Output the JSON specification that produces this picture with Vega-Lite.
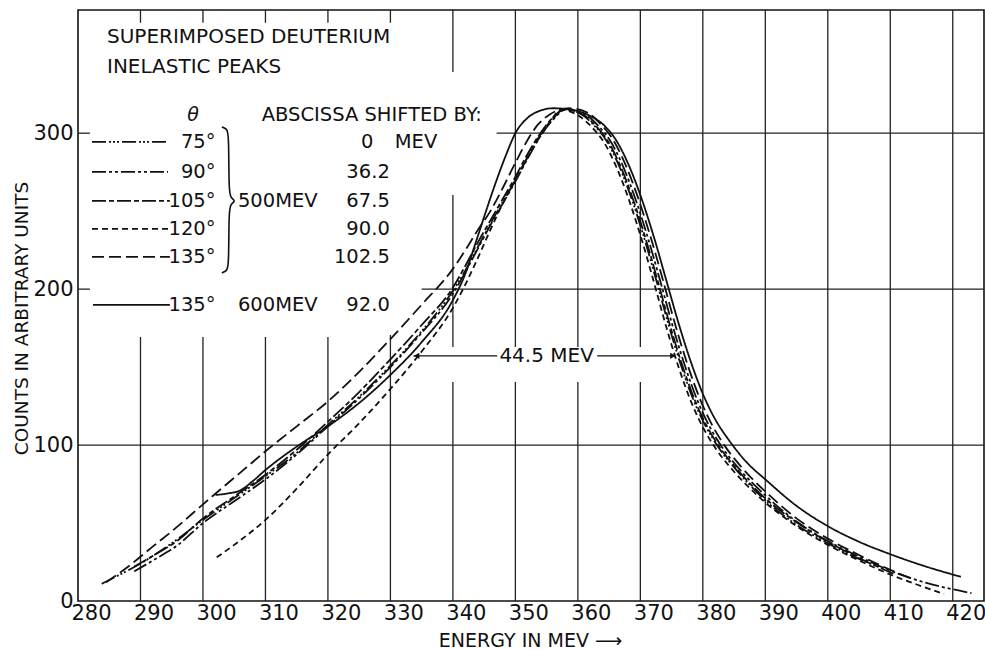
{
  "$schema": "https://vega.github.io/schema/vega-lite/v6.json",
  "width": 906,
  "height": 591,
  "autosize": {"type": "none"},
  "padding": {"left": 78, "top": 10, "right": 1, "bottom": 49},
  "background": "white",
  "config": {"view": {"stroke": "#111", "strokeWidth": 1.6}, "font": "DejaVu Sans"},
  "datasets": {
    "grid": [
      {"x": 290, "x2": 290, "y": 379, "y2": 370.8}, {"x": 290, "x2": 290, "y": 169.3, "y2": 0},
      {"x": 300, "x2": 300, "y": 379, "y2": 370.8}, {"x": 300, "x2": 300, "y": 169.3, "y2": 0},
      {"x": 310, "x2": 310, "y": 379, "y2": 370.8}, {"x": 310, "x2": 310, "y": 169.3, "y2": 0},
      {"x": 320, "x2": 320, "y": 379, "y2": 370.8}, {"x": 320, "x2": 320, "y": 169.3, "y2": 0},
      {"x": 330, "x2": 330, "y": 379, "y2": 370.8}, {"x": 330, "x2": 330, "y": 170.6, "y2": 0},
      {"x": 340, "x2": 340, "y": 379, "y2": 339.3}, {"x": 340, "x2": 340, "y": 260.4, "y2": 162.9}, {"x": 340, "x2": 340, "y": 140.5, "y2": 0},
      {"x": 350, "x2": 350, "y": 379, "y2": 162.9}, {"x": 350, "x2": 350, "y": 140.5, "y2": 0},
      {"x": 360, "x2": 360, "y": 379, "y2": 162.9}, {"x": 360, "x2": 360, "y": 140.5, "y2": 0},
      {"x": 370, "x2": 370, "y": 379, "y2": 162.9}, {"x": 370, "x2": 370, "y": 140.5, "y2": 0},
      {"x": 380, "x2": 380, "y": 379, "y2": 0},
      {"x": 390, "x2": 390, "y": 379, "y2": 0},
      {"x": 400, "x2": 400, "y": 379, "y2": 0},
      {"x": 410, "x2": 410, "y": 379, "y2": 0},
      {"x": 420, "x2": 420, "y": 379, "y2": 0},
      {"x": 280, "x2": 425, "y": 100, "y2": 100},
      {"x": 335, "x2": 425, "y": 200, "y2": 200},
      {"x": 280, "x2": 281.9, "y": 200, "y2": 200},
      {"x": 347, "x2": 425, "y": 300, "y2": 300},
      {"x": 280, "x2": 281.9, "y": 300, "y2": 300}
    ],
    "curves": [
      {"s": "75°", "x": 283.8, "y": 11}, {"s": "75°", "x": 286, "y": 15.5}, {"s": "75°", "x": 290, "y": 24}, {"s": "75°", "x": 295, "y": 37}, {"s": "75°", "x": 300, "y": 52}, {"s": "75°", "x": 305, "y": 66}, {"s": "75°", "x": 310, "y": 80}, {"s": "75°", "x": 315, "y": 95}, {"s": "75°", "x": 320, "y": 113}, {"s": "75°", "x": 325, "y": 131}, {"s": "75°", "x": 330, "y": 151}, {"s": "75°", "x": 335, "y": 173}, {"s": "75°", "x": 340, "y": 199}, {"s": "75°", "x": 342, "y": 212}, {"s": "75°", "x": 344, "y": 227}, {"s": "75°", "x": 346, "y": 242}, {"s": "75°", "x": 348, "y": 256}, {"s": "75°", "x": 350, "y": 270}, {"s": "75°", "x": 352, "y": 285}, {"s": "75°", "x": 354, "y": 299}, {"s": "75°", "x": 356, "y": 309}, {"s": "75°", "x": 357.6, "y": 315.5}, {"s": "75°", "x": 360.6, "y": 312}, {"s": "75°", "x": 362.6, "y": 305}, {"s": "75°", "x": 364.6, "y": 295}, {"s": "75°", "x": 366.6, "y": 279}, {"s": "75°", "x": 368.6, "y": 258}, {"s": "75°", "x": 370.6, "y": 233}, {"s": "75°", "x": 372.6, "y": 205}, {"s": "75°", "x": 374.6, "y": 176}, {"s": "75°", "x": 376.6, "y": 150}, {"s": "75°", "x": 378.6, "y": 128}, {"s": "75°", "x": 380.6, "y": 111}, {"s": "75°", "x": 382.6, "y": 98}, {"s": "75°", "x": 385.6, "y": 83}, {"s": "75°", "x": 389.6, "y": 66}, {"s": "75°", "x": 394.6, "y": 50}, {"s": "75°", "x": 400, "y": 37}, {"s": "75°", "x": 405, "y": 27}, {"s": "75°", "x": 408.2, "y": 22},

      {"s": "90°", "x": 289, "y": 19}, {"s": "90°", "x": 292, "y": 26}, {"s": "90°", "x": 296, "y": 36}, {"s": "90°", "x": 300, "y": 50}, {"s": "90°", "x": 305, "y": 64}, {"s": "90°", "x": 310, "y": 78}, {"s": "90°", "x": 315, "y": 94}, {"s": "90°", "x": 320, "y": 112}, {"s": "90°", "x": 325, "y": 130}, {"s": "90°", "x": 330, "y": 150}, {"s": "90°", "x": 335, "y": 172}, {"s": "90°", "x": 340, "y": 197}, {"s": "90°", "x": 342, "y": 211}, {"s": "90°", "x": 344, "y": 226}, {"s": "90°", "x": 346, "y": 241}, {"s": "90°", "x": 348, "y": 255}, {"s": "90°", "x": 350, "y": 269}, {"s": "90°", "x": 352, "y": 284}, {"s": "90°", "x": 354, "y": 298}, {"s": "90°", "x": 356, "y": 308.5}, {"s": "90°", "x": 358.2, "y": 315.5}, {"s": "90°", "x": 361.2, "y": 312}, {"s": "90°", "x": 363.2, "y": 305}, {"s": "90°", "x": 365.2, "y": 295}, {"s": "90°", "x": 367.2, "y": 279}, {"s": "90°", "x": 369.2, "y": 258}, {"s": "90°", "x": 371.2, "y": 233}, {"s": "90°", "x": 373.2, "y": 205}, {"s": "90°", "x": 375.2, "y": 176}, {"s": "90°", "x": 377.2, "y": 150}, {"s": "90°", "x": 379.2, "y": 128}, {"s": "90°", "x": 381.2, "y": 111}, {"s": "90°", "x": 383.2, "y": 98}, {"s": "90°", "x": 386.2, "y": 83}, {"s": "90°", "x": 390.2, "y": 67}, {"s": "90°", "x": 395, "y": 51}, {"s": "90°", "x": 400, "y": 38.5}, {"s": "90°", "x": 405, "y": 28.5}, {"s": "90°", "x": 410, "y": 19.5}, {"s": "90°", "x": 415, "y": 12.5}, {"s": "90°", "x": 420, "y": 7.5}, {"s": "90°", "x": 423, "y": 5},

      {"s": "105°", "x": 289, "y": 22}, {"s": "105°", "x": 292, "y": 29}, {"s": "105°", "x": 296, "y": 39}, {"s": "105°", "x": 300, "y": 53}, {"s": "105°", "x": 305, "y": 67}, {"s": "105°", "x": 310, "y": 81}, {"s": "105°", "x": 315, "y": 97}, {"s": "105°", "x": 320, "y": 115}, {"s": "105°", "x": 325, "y": 134}, {"s": "105°", "x": 330, "y": 155}, {"s": "105°", "x": 335, "y": 177}, {"s": "105°", "x": 340, "y": 201}, {"s": "105°", "x": 342, "y": 215}, {"s": "105°", "x": 344, "y": 230}, {"s": "105°", "x": 346, "y": 244}, {"s": "105°", "x": 348, "y": 258}, {"s": "105°", "x": 350, "y": 272}, {"s": "105°", "x": 352, "y": 287}, {"s": "105°", "x": 354, "y": 300}, {"s": "105°", "x": 356, "y": 310}, {"s": "105°", "x": 357.8, "y": 315}, {"s": "105°", "x": 360.8, "y": 312}, {"s": "105°", "x": 362.8, "y": 305}, {"s": "105°", "x": 364.8, "y": 295}, {"s": "105°", "x": 366.8, "y": 279}, {"s": "105°", "x": 368.8, "y": 258}, {"s": "105°", "x": 370.8, "y": 233}, {"s": "105°", "x": 372.8, "y": 205}, {"s": "105°", "x": 374.8, "y": 176}, {"s": "105°", "x": 376.8, "y": 150}, {"s": "105°", "x": 378.8, "y": 128}, {"s": "105°", "x": 380.8, "y": 111}, {"s": "105°", "x": 382.8, "y": 98}, {"s": "105°", "x": 385.8, "y": 83}, {"s": "105°", "x": 389.8, "y": 66.5}, {"s": "105°", "x": 395, "y": 50.5}, {"s": "105°", "x": 400, "y": 38}, {"s": "105°", "x": 405, "y": 27.5}, {"s": "105°", "x": 410.5, "y": 17.5},

      {"s": "120°", "x": 302.2, "y": 28}, {"s": "120°", "x": 305, "y": 36}, {"s": "120°", "x": 310, "y": 52}, {"s": "120°", "x": 315, "y": 72}, {"s": "120°", "x": 320, "y": 94}, {"s": "120°", "x": 325, "y": 114}, {"s": "120°", "x": 330, "y": 136}, {"s": "120°", "x": 335, "y": 160}, {"s": "120°", "x": 340, "y": 188}, {"s": "120°", "x": 342, "y": 203}, {"s": "120°", "x": 344, "y": 220}, {"s": "120°", "x": 346, "y": 238}, {"s": "120°", "x": 348, "y": 255}, {"s": "120°", "x": 350, "y": 270}, {"s": "120°", "x": 352, "y": 285}, {"s": "120°", "x": 354.3, "y": 300}, {"s": "120°", "x": 356, "y": 310}, {"s": "120°", "x": 357.2, "y": 315}, {"s": "120°", "x": 360.2, "y": 311}, {"s": "120°", "x": 362.2, "y": 304}, {"s": "120°", "x": 364.2, "y": 294}, {"s": "120°", "x": 366.2, "y": 278}, {"s": "120°", "x": 368.2, "y": 257}, {"s": "120°", "x": 370.2, "y": 232}, {"s": "120°", "x": 372.2, "y": 204}, {"s": "120°", "x": 374.2, "y": 175}, {"s": "120°", "x": 376.2, "y": 149}, {"s": "120°", "x": 378.2, "y": 127}, {"s": "120°", "x": 380.2, "y": 110}, {"s": "120°", "x": 382.2, "y": 97}, {"s": "120°", "x": 385.2, "y": 82}, {"s": "120°", "x": 389.2, "y": 66}, {"s": "120°", "x": 395, "y": 48}, {"s": "120°", "x": 400, "y": 36}, {"s": "120°", "x": 405, "y": 26}, {"s": "120°", "x": 410, "y": 17}, {"s": "120°", "x": 415, "y": 9.5}, {"s": "120°", "x": 418.6, "y": 4.5},

      {"s": "135°", "x": 284.5, "y": 12}, {"s": "135°", "x": 288, "y": 22}, {"s": "135°", "x": 292, "y": 35}, {"s": "135°", "x": 296, "y": 48}, {"s": "135°", "x": 300, "y": 62}, {"s": "135°", "x": 305, "y": 79}, {"s": "135°", "x": 310, "y": 96}, {"s": "135°", "x": 315, "y": 112}, {"s": "135°", "x": 320, "y": 128}, {"s": "135°", "x": 325, "y": 147}, {"s": "135°", "x": 330, "y": 168}, {"s": "135°", "x": 335, "y": 190}, {"s": "135°", "x": 340, "y": 213}, {"s": "135°", "x": 342, "y": 225}, {"s": "135°", "x": 344, "y": 238}, {"s": "135°", "x": 346, "y": 250}, {"s": "135°", "x": 348, "y": 265}, {"s": "135°", "x": 350, "y": 281}, {"s": "135°", "x": 352, "y": 296}, {"s": "135°", "x": 353.5, "y": 305}, {"s": "135°", "x": 355.5, "y": 312}, {"s": "135°", "x": 358.6, "y": 316}, {"s": "135°", "x": 361.6, "y": 313}, {"s": "135°", "x": 363.6, "y": 306}, {"s": "135°", "x": 365.6, "y": 296}, {"s": "135°", "x": 367.6, "y": 280}, {"s": "135°", "x": 369.6, "y": 259}, {"s": "135°", "x": 371.6, "y": 234}, {"s": "135°", "x": 373.6, "y": 206}, {"s": "135°", "x": 375.6, "y": 177}, {"s": "135°", "x": 377.6, "y": 151}, {"s": "135°", "x": 379.6, "y": 129}, {"s": "135°", "x": 381.6, "y": 112}, {"s": "135°", "x": 383.6, "y": 99}, {"s": "135°", "x": 386.6, "y": 84}, {"s": "135°", "x": 390.6, "y": 68}, {"s": "135°", "x": 395, "y": 53}, {"s": "135°", "x": 400, "y": 40}, {"s": "135°", "x": 405, "y": 29.5}, {"s": "135°", "x": 410, "y": 20}, {"s": "135°", "x": 413.2, "y": 14.7},

      {"s": "135° 600", "x": 302, "y": 68}, {"s": "135° 600", "x": 304, "y": 69}, {"s": "135° 600", "x": 306, "y": 71}, {"s": "135° 600", "x": 308, "y": 77}, {"s": "135° 600", "x": 310, "y": 84}, {"s": "135° 600", "x": 315, "y": 99}, {"s": "135° 600", "x": 320, "y": 112}, {"s": "135° 600", "x": 325, "y": 127}, {"s": "135° 600", "x": 330, "y": 145}, {"s": "135° 600", "x": 335, "y": 166}, {"s": "135° 600", "x": 340, "y": 193}, {"s": "135° 600", "x": 342, "y": 210}, {"s": "135° 600", "x": 343.5, "y": 228}, {"s": "135° 600", "x": 345.3, "y": 250}, {"s": "135° 600", "x": 347, "y": 270}, {"s": "135° 600", "x": 348.5, "y": 286}, {"s": "135° 600", "x": 350, "y": 300}, {"s": "135° 600", "x": 352, "y": 310}, {"s": "135° 600", "x": 354, "y": 314.5}, {"s": "135° 600", "x": 356, "y": 316}, {"s": "135° 600", "x": 359, "y": 315}, {"s": "135° 600", "x": 362, "y": 311}, {"s": "135° 600", "x": 364.2, "y": 305}, {"s": "135° 600", "x": 366.2, "y": 295}, {"s": "135° 600", "x": 368.2, "y": 279}, {"s": "135° 600", "x": 370.2, "y": 258}, {"s": "135° 600", "x": 372.2, "y": 233}, {"s": "135° 600", "x": 374.2, "y": 205}, {"s": "135° 600", "x": 376.2, "y": 177}, {"s": "135° 600", "x": 378.2, "y": 152}, {"s": "135° 600", "x": 380.2, "y": 131}, {"s": "135° 600", "x": 382.2, "y": 115}, {"s": "135° 600", "x": 384.2, "y": 103}, {"s": "135° 600", "x": 387, "y": 89}, {"s": "135° 600", "x": 390, "y": 78}, {"s": "135° 600", "x": 395, "y": 61}, {"s": "135° 600", "x": 400, "y": 48}, {"s": "135° 600", "x": 405, "y": 38}, {"s": "135° 600", "x": 410, "y": 30}, {"s": "135° 600", "x": 415, "y": 23}, {"s": "135° 600", "x": 421.3, "y": 15.5}
    ],
    "samples": [
      {"s": "75°", "x": 282.24, "y": 294.4}, {"s": "75°", "x": 294.4, "y": 294.4},
      {"s": "90°", "x": 282.24, "y": 275.2}, {"s": "90°", "x": 294.4, "y": 275.2},
      {"s": "105°", "x": 282.24, "y": 256.6}, {"s": "105°", "x": 294.7, "y": 256.6},
      {"s": "120°", "x": 282.24, "y": 238.6}, {"s": "120°", "x": 294.7, "y": 238.6},
      {"s": "135°", "x": 282.24, "y": 220.7}, {"s": "135°", "x": 294.7, "y": 220.7},
      {"s": "135° 600", "x": 282.4, "y": 189.9}, {"s": "135° 600", "x": 294.7, "y": 189.9}
    ],
    "brace": [
      {"o": 1, "x": 303.02, "y": 304.0}, {"o": 2, "x": 303.82, "y": 302.8}, {"o": 3, "x": 304.14, "y": 299.6}, {"o": 4, "x": 304.14, "y": 262.3}, {"o": 5, "x": 304.46, "y": 258.5}, {"o": 6, "x": 305.26, "y": 256.6}, {"o": 7, "x": 304.46, "y": 254.6}, {"o": 8, "x": 304.14, "y": 250.8}, {"o": 9, "x": 304.14, "y": 214.9}, {"o": 10, "x": 303.82, "y": 211.7}, {"o": 11, "x": 303.02, "y": 210.4}
    ],
    "arrow": [
      {"x": 333.7, "x2": 347.1, "y": 157.2, "y2": 157.2},
      {"x": 363.1, "x2": 375.6, "y": 157.2, "y2": 157.2}
    ],
    "heads": [
      {"side": "left", "x": 334.2, "y": 157.2},
      {"side": "right", "x": 375.2, "y": 157.2}
    ],
    "titles": [
      {"label": "SUPERIMPOSED DEUTERIUM", "x": 284.64, "y": 361.8},
      {"label": "INELASTIC PEAKS", "x": 284.64, "y": 342.5}
    ],
    "textL": [
      {"label": "ABSCISSA SHIFTED BY:", "x": 309.4, "y": 311.7},
      {"label": "MEV", "x": 330.7, "y": 294.4},
      {"label": "500MEV", "x": 305.6, "y": 256.6},
      {"label": "600MEV", "x": 305.6, "y": 189.9}
    ],
    "textR": [
      {"label": "75°", "x": 302.0, "y": 294.4},
      {"label": "90°", "x": 302.0, "y": 275.2},
      {"label": "105°", "x": 302.0, "y": 256.6},
      {"label": "120°", "x": 302.0, "y": 238.6},
      {"label": "135°", "x": 302.0, "y": 220.7},
      {"label": "135°", "x": 302.0, "y": 189.9},
      {"label": "0", "x": 327.3, "y": 294.4},
      {"label": "36.2", "x": 329.9, "y": 275.2},
      {"label": "67.5", "x": 329.9, "y": 256.6},
      {"label": "90.0", "x": 329.9, "y": 238.6},
      {"label": "102.5", "x": 329.9, "y": 220.7},
      {"label": "92.0", "x": 329.9, "y": 189.9}
    ],
    "theta": [{"label": "θ", "x": 298.4, "y": 311.7}],
    "fwhm": [{"label": "44.5 MEV", "x": 355.0, "y": 157.2}]
  },
  "encoding": {
    "x": {
      "field": "x", "type": "quantitative",
      "scale": {"domain": [280, 425], "nice": false, "zero": false},
      "axis": {
        "values": [280, 290, 300, 310, 320, 330, 340, 350, 360, 370, 380, 390, 400, 410, 420],
        "title": "ENERGY IN MEV ⟶",
        "grid": false, "ticks": false, "domain": false,
        "labelFont": "DejaVu Sans", "labelFontSize": 21, "labelColor": "#111",
        "labelOffset": 13, "labelPadding": 1, "labelFlush": false, "labelOverlap": false,
        "titleFont": "DejaVu Sans", "titleFontSize": 19, "titleFontWeight": "normal", "titleColor": "#111",
        "titleX": 452, "titleY": 39, "titleAlign": "center", "titleBaseline": "middle"
      }
    },
    "y": {
      "field": "y", "type": "quantitative",
      "scale": {"domain": [0, 379], "nice": false, "zero": true},
      "axis": {
        "values": [0, 100, 200, 300],
        "title": "COUNTS IN ARBITRARY UNITS",
        "grid": false, "ticks": false, "domain": false,
        "labelFont": "DejaVu Sans", "labelFontSize": 21, "labelColor": "#111",
        "labelPadding": 5, "labelFlush": false,
        "titleFont": "DejaVu Sans", "titleFontSize": 18.5, "titleFontWeight": "normal", "titleColor": "#111",
        "titleX": -57, "titleY": 308, "titleAngle": 270, "titleAlign": "center", "titleBaseline": "middle"
      }
    }
  },
  "layer": [
    {
      "data": {"name": "grid"},
      "mark": {"type": "rule", "stroke": "#222", "strokeWidth": 1.3},
      "encoding": {"x2": {"field": "x2"}, "y2": {"field": "y2"}}
    },
    {
      "data": {"name": "curves"},
      "mark": {"type": "line", "interpolate": "monotone", "stroke": "#111", "strokeWidth": 1.8},
      "encoding": {
        "strokeDash": {
          "field": "s", "type": "nominal", "legend": null,
          "scale": {
            "domain": ["75°", "90°", "105°", "120°", "135°", "135° 600"],
            "range": [[14, 3, 2, 2, 2, 2, 2, 3], [14, 3, 3, 3, 3, 3], [14, 3, 5, 3], [6, 4], [12, 5], [1, 0]]
          }
        }
      }
    },
    {
      "data": {"name": "samples"},
      "mark": {"type": "line", "stroke": "#111", "strokeWidth": 1.8},
      "encoding": {
        "strokeDash": {"field": "s", "type": "nominal", "legend": null}
      }
    },
    {
      "data": {"name": "brace"},
      "mark": {"type": "line", "interpolate": "basis", "stroke": "#111", "strokeWidth": 1.6},
      "encoding": {"order": {"field": "o", "type": "quantitative"}}
    },
    {
      "data": {"name": "arrow"},
      "mark": {"type": "rule", "stroke": "#111", "strokeWidth": 1.3},
      "encoding": {"x2": {"field": "x2"}, "y2": {"field": "y2"}}
    },
    {
      "data": {"name": "heads"},
      "mark": {"type": "point", "filled": true, "color": "#111", "size": 40, "opacity": 1},
      "encoding": {
        "shape": {"field": "side", "type": "nominal", "legend": null,
          "scale": {"domain": ["left", "right"], "range": ["triangle-left", "triangle-right"]}}
      }
    },
    {
      "data": {"name": "titles"},
      "mark": {"type": "text", "align": "left", "baseline": "middle", "font": "DejaVu Sans", "fontSize": 20, "color": "#111"},
      "encoding": {"text": {"field": "label"}}
    },
    {
      "data": {"name": "textL"},
      "mark": {"type": "text", "align": "left", "baseline": "middle", "font": "DejaVu Sans", "fontSize": 19.5, "color": "#111"},
      "encoding": {"text": {"field": "label"}}
    },
    {
      "data": {"name": "textR"},
      "mark": {"type": "text", "align": "right", "baseline": "middle", "font": "DejaVu Sans", "fontSize": 19.5, "color": "#111"},
      "encoding": {"text": {"field": "label"}}
    },
    {
      "data": {"name": "theta"},
      "mark": {"type": "text", "align": "center", "baseline": "middle", "font": "DejaVu Sans", "fontStyle": "italic", "fontSize": 19, "color": "#111"},
      "encoding": {"text": {"field": "label"}}
    },
    {
      "data": {"name": "fwhm"},
      "mark": {"type": "text", "align": "center", "baseline": "middle", "font": "DejaVu Sans", "fontSize": 20, "color": "#111"},
      "encoding": {"text": {"field": "label"}}
    }
  ]
}
